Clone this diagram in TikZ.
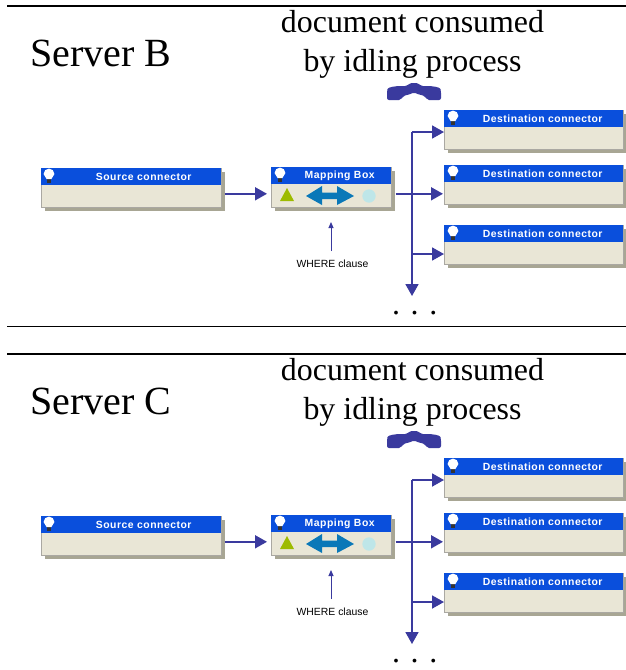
\documentclass[tikz,border=0pt]{standalone}
\usepackage{fontspec}
\setmainfont{Liberation Serif}
\newfontfamily\boxfont[LetterSpace=5]{Liberation Sans}
\newfontfamily\clausefont{Liberation Sans}
\usetikzlibrary{shadows,positioning,arrows.meta}
\definecolor{headblue}{HTML}{0A4FDC}
\definecolor{boxcream}{HTML}{E9E6D6}
\definecolor{boxshade}{HTML}{A8A694}
\definecolor{flowblue}{HTML}{3A3A9E}
\definecolor{icongreen}{HTML}{9DBB00}
\definecolor{iconblue}{HTML}{0A78B8}
\definecolor{iconpale}{HTML}{BEE6E8}
\tikzset{
  connbox/.style={anchor=north west,fill=boxcream,inner sep=0,draw=boxcream!40!gray,line width=0.6pt,
    drop shadow={shadow xshift=4pt,shadow yshift=-4pt,fill=boxshade,opacity=1}},
  headbar/.style={anchor=north west,fill=headblue,inner sep=0,text=white,font=\boxfont\bfseries\fontsize{10.4}{12}\selectfont},
  srvtitle/.style={anchor=base west,inner sep=0,font=\fontsize{40}{44}\selectfont},
  doctitle/.style={anchor=base,inner sep=0,font=\fontsize{31.9}{36}\selectfont},
  flow/.style={draw=flowblue,line width=1.8pt},
  flowtip/.style={flow,-{Triangle[length=12pt,width=13pt]}},
}
% bulb at the left of a head bar
\newcommand{\bulbicon}[2]{
  \fill[black!80] (#1-2.4,#2+10) rectangle (#1+2.4,#2+15);
  \fill[white] (#1-2.4,#2+11) -- (#1-5.4,#2+6) arc[start angle=180,end angle=360,radius=5.4] -- (#1+2.4,#2+11) -- cycle;
}
\begin{document}
\begin{tikzpicture}[x=1pt,y=-1pt]
 \useasboundingbox (0,0) rectangle (626,670);
 \fill[white] (0,0) rectangle (626,670);

 \foreach \srv/\off in {B/0,C/348}{
 \begin{scope}[yshift=-\off pt,name prefix=\srv-]
  \coordinate (ruleL) at (7,6);
  \coordinate (ruleR) at (626,6);
  \draw[line width=1.6pt] (ruleL) -- (ruleR);

  \node[srvtitle] (server) at (30,66) {Server \srv};
  \node[doctitle] (docline) at (412.5,32) {document consumed};
  \node[doctitle] (byline) at (412.5,71) {by idling process};

  % handset
  \fill[flowblue,rounded corners=2pt] (387,100) -- (387,91) .. controls (388,87) and (396,86) .. (403,86)
    .. controls (407,86) and (410,83) .. (414,83) .. controls (418,83) and (421,86) .. (425,86)
    .. controls (432,86) and (440,87) .. (441,91) -- (441,100) -- (427,100) -- (425,96)
    .. controls (421,95) and (417,94) .. (414,92) .. controls (411,94) and (407,95) .. (403,96) -- (401,100) -- cycle;

  % source
  \node[connbox,minimum width=180pt,minimum height=39pt] (source) at (41,168) {};
  \node[headbar,minimum width=180pt,minimum height=17pt] (sourcehead) at (41,168) {\hspace{25pt}Source connector};
  \bulbicon{49}{168}

  % mapping box
  \node[connbox,minimum width=120pt,minimum height=40pt] (mapbox) at (271,167) {};
  \node[headbar,minimum width=120pt,minimum height=17pt] (maphead) at (271,167) {\hspace{17pt}Mapping Box};
  \bulbicon{280}{167}
  \fill[icongreen] (280,201) -- (287,188) -- (294,201) -- cycle;
  \fill[iconblue] (306,196) -- (322,186) -- (322,192.5) -- (337,192.5) -- (337,186) -- (354,196)
    -- (337,205) -- (337,199) -- (322,199) -- (322,205) -- cycle;
  \fill[iconpale] (369,196) circle (6.7);

  % destinations
  \foreach \dest/\ypos in {1/110,2/165,3/225}{
   \node[connbox,minimum width=179pt,minimum height=39pt] (dest\dest) at (444,\ypos) {};
   \node[headbar,minimum width=179pt,minimum height=17pt] (desthead\dest) at (444,\ypos) {\hspace{18pt}Destination connector};
   \bulbicon{453}{\ypos}
  }

  % connectors
  \coordinate (trunktop) at (412,132);
  \coordinate (trunkend) at (412,296);
  \coordinate (tap3) at (412,254);
  \draw[flowtip] ([shift={(3pt,-6pt)}]source.east) -- ([shift={(-4pt,-6.5pt)}]mapbox.west);
  \draw[flowtip] ([shift={(4pt,-6.5pt)}]mapbox.east) -- ([shift={(-1pt,-9pt)}]dest2.west);
  \draw[flowtip] (trunkend |- trunktop) -- (trunkend);
  \draw[flowtip] (trunktop) -- (trunktop -| dest1.west);
  \draw[flowtip] (tap3) -- (tap3 -| dest3.west);

  \node[inner sep=0,font=\clausefont\fontsize{10.4}{12}\selectfont] (clause) at (332.5,264) {WHERE clause};
  \coordinate (clausetop) at (331,251);
  \draw[draw=flowblue,line width=0.9pt,-{Triangle[length=6pt,width=5pt]}] (clausetop) -- (331,222);

  \node[doctitle] (more) at (414.7,314) {. . .};

  \ifnum\off=0
   \coordinate (endL) at (7,326);
   \coordinate (endR) at (626,326);
   \draw[line width=0.9pt] (endL) -- (endR);
  \fi
 \end{scope}
 }
\end{tikzpicture}
\end{document}
